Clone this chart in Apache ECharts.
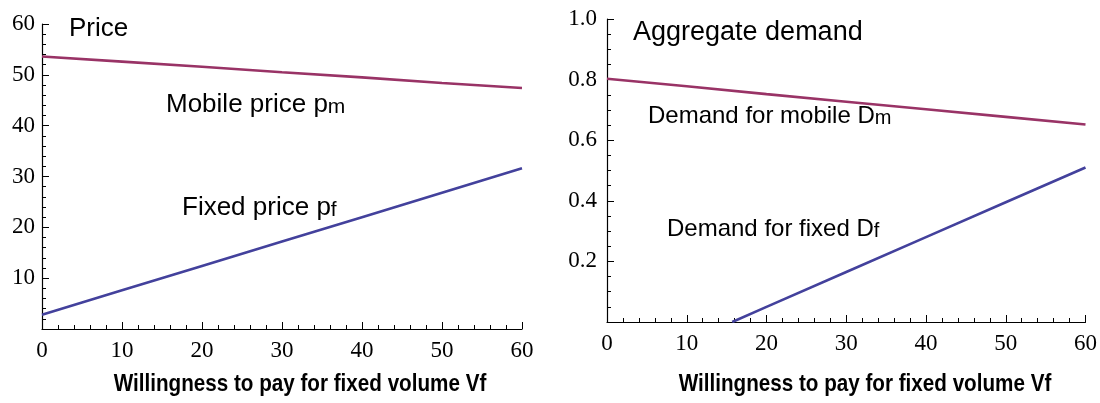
<!DOCTYPE html>
<html><head><meta charset="utf-8">
<script src="https://cdn.jsdelivr.net/npm/echarts@6/dist/echarts.min.js"></script>
<style>html,body{margin:0;padding:0;background:#fff}#c{width:1100px;height:403px}</style>
</head><body><div id="c"></div>
<script>
// Left panel: prices vs willingness to pay for fixed volume
const vf = [0, 10, 20, 30, 40, 50, 60];
const mobilePrice = [53.6, 52.6, 51.6, 50.5, 49.5, 48.4, 47.4];
const fixedPrice = [2.8, 7.6, 12.4, 17.2, 22.0, 26.8, 31.6];
// Right panel: aggregate demand
const demandMobile = [0.803, 0.778, 0.752, 0.727, 0.702, 0.677, 0.652];
const vfFixedDemand = [15.7, 20, 30, 40, 50, 60];
const demandFixed = [0, 0.05, 0.165, 0.28, 0.395, 0.51];
const xTicks = [0, 10, 20, 30, 40, 50, 60];
const priceTicks = [10, 20, 30, 40, 50, 60];
const demandTicks = [0.2, 0.4, 0.6, 0.8, 1.0];

const PURPLE = '#993366', BLUE = '#43419c';
const SANS = '"Liberation Sans", Arial, sans-serif';
const TICK_RICH = {t: {color: '#000', fontFamily: '"Liberation Serif", serif', fontSize: 23}};

function xAxis(gi, margin) {
  return {
    type: 'value', gridIndex: gi, min: 0, max: 60, interval: 10,
    axisLine: {show: true, onZero: false, lineStyle: {color: '#000', width: 1.2}},
    axisTick: {show: true, inside: true, length: 7, lineStyle: {color: '#000'}},
    minorTick: {show: true, splitNumber: 5, length: 4, lineStyle: {color: '#000'}},
    splitLine: {show: false},
    axisLabel: {margin: margin, color: '#000', fontSize: 23, rich: TICK_RICH,
      formatter: v => xTicks.includes(v) ? '{t|' + v + '}' : ''}
  };
}
function yAxis(gi, max, interval, split, ticks, dec, margin) {
  return {
    type: 'value', gridIndex: gi, min: 0, max: max, interval: interval,
    axisLine: {show: true, onZero: false, lineStyle: {color: '#000', width: 1.2}},
    axisTick: {show: true, inside: true, length: 7, lineStyle: {color: '#000'}},
    minorTick: {show: true, splitNumber: split, length: 4, lineStyle: {color: '#000'}},
    splitLine: {show: false},
    axisLabel: {margin: margin, color: '#000', fontSize: 23, rich: TICK_RICH,
      formatter: v => ticks.some(t => Math.abs(t - v) < 1e-9) ? '{t|' + v.toFixed(dec) + '}' : ''}
  };
}
function pairs(xs, ys) { return xs.map((x, i) => [x, ys[i]]); }
function line(xi, data, color) {
  return {type: 'line', xAxisIndex: xi, yAxisIndex: xi, data: data, showSymbol: false,
    symbol: 'none', smooth: false, lineStyle: {color: color, width: 2.6}, silent: true};
}
function txt(x, y, parts, size) {
  const s = parts.map(p => p[1] ? '{s|' + p[0] + '}' : '{a|' + p[0] + '}').join('');
  return {type: 'text', x: x, y: y, silent: true,
    style: {text: s, textAlign: 'left', textVerticalAlign: 'top',
      rich: {a: {fontFamily: SANS, fontSize: size, color: '#000'},
             s: {fontFamily: SANS, fontSize: Math.round(size * 0.82), color: '#000', verticalAlign: 'bottom'}}}};
}
function nameTxt(x, y, t) {
  return {type: 'text', x: x, y: y, scaleX: 0.86, silent: true,
    style: {text: t, font: 'bold 24px ' + SANS, fill: '#000', textAlign: 'center', textVerticalAlign: 'middle'}};
}

const chart = echarts.init(document.getElementById('c'), null, {renderer: 'canvas'});
chart.setOption({
  animation: false,
  backgroundColor: '#fff',
  grid: [
    {left: 42, top: 24, width: 480, height: 305},
    {left: 607, top: 19, width: 480, height: 303}
  ],
  xAxis: [xAxis(0, 10), xAxis(1, 10)],
  yAxis: [yAxis(0, 60, 10, 5, priceTicks, 0, 7), yAxis(1, 1.0, 0.2, 4, demandTicks, 1, 10)],
  series: [
    line(0, pairs(vf, mobilePrice), PURPLE),
    line(0, pairs(vf, fixedPrice), BLUE),
    line(1, pairs(vf, demandMobile), PURPLE),
    line(1, pairs(vfFixedDemand, demandFixed), BLUE)
  ],
  graphic: [
    txt(69, 16, [['Price', 0]], 26),
    txt(166, 92, [['Mobile price p', 0], ['m', 1]], 26),
    txt(182, 195, [['Fixed price p', 0], ['f', 1]], 26),
    txt(633, 19, [['Aggregate demand', 0]], 27),
    txt(648, 104, [['Demand for mobile D', 0], ['m', 1]], 24),
    txt(667, 217, [['Demand for fixed D', 0], ['f', 1]], 24),
    nameTxt(300, 384, 'Willingness to pay for fixed volume Vf'),
    nameTxt(865, 384, 'Willingness to pay for fixed volume Vf')
  ]
});
</script></body></html>
